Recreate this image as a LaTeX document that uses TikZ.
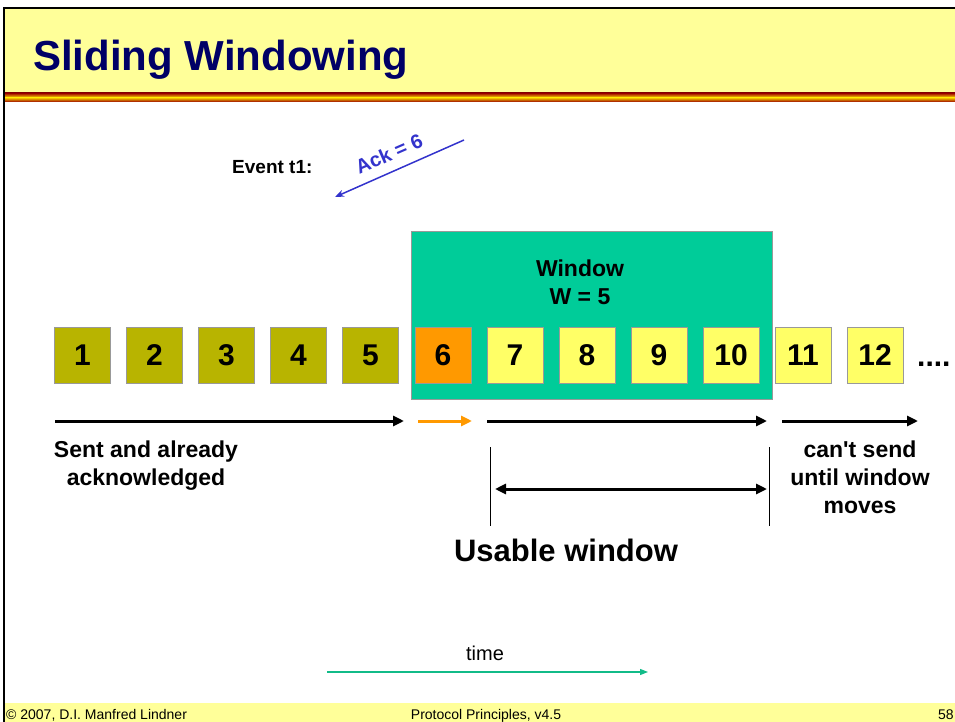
\documentclass[tikz,border=0pt]{standalone}
\usepackage{fontspec}
\setmainfont{Liberation Sans}
\usetikzlibrary{arrows.meta}
\definecolor{hdr}{HTML}{FFFF99}
\definecolor{navy}{HTML}{000066}
\definecolor{olivebox}{HTML}{B8B400}
\definecolor{orangebox}{HTML}{FF9900}
\definecolor{yellowbox}{HTML}{FFFF66}
\definecolor{teal}{HTML}{00CC99}
\definecolor{ackblue}{HTML}{3333CC}
\definecolor{timegreen}{HTML}{11BB88}
\tikzset{
  pkt/.style={draw=gray!80, line width=0.8pt, minimum width=56pt, minimum height=56pt, inner sep=0pt, font=\fontsize{30}{30}\selectfont\bfseries},
  lbl/.style={align=center, font=\fontsize{23}{28}\selectfont\bfseries, inner sep=0pt},
  bigarrow/.style={line width=3pt, -{Triangle[length=11pt,width=10pt]}},
  foot/.style={font=\fontsize{14}{14}\selectfont, inner sep=0pt},
}
\begin{document}
\begin{tikzpicture}[x=1pt,y=-1pt]
\useasboundingbox (0,0) rectangle (955,722);
% header
\fill[hdr] (4,8) rectangle (955,93);
\shade[top color=red!60!black, bottom color=yellow!70!orange] (4,93) rectangle (955,97.5);
\shade[top color=yellow!70!orange, bottom color=red!60!black] (4,97.5) rectangle (955,102);
\draw[line width=2pt] (4,722) -- (4,8) -- (955,8);
\node[anchor=base west, text=navy, font=\fontsize{42}{42}\selectfont\bfseries, inner sep=0pt] (title) at (33,71) {Sliding Windowing};
% footer
\fill[hdr] (5,703) rectangle (955,722);
\node[foot, anchor=base west] (copy) at (6,719) {© 2007, D.I. Manfred Lindner};
\node[foot, anchor=base] (proto) at (486,719) {Protocol Principles, v4.5};
\node[foot, anchor=base west] (page) at (938,719) {58};
% window
\node[draw=gray!80, line width=0.8pt, fill=teal, minimum width=361pt, minimum height=168pt, inner sep=0pt] (win) at (591.5,315) {};
\node[lbl] (wintxt) at (580,282) {Window\\W = 5};
% packets
\foreach \i in {1,...,5} {
  \node[pkt, fill=olivebox] (b\i) at ({82.5+72*(\i-1)},355) {\i};
}
\node[pkt, fill=orangebox] (b6) at (443,355) {6};
\foreach \i in {7,...,12} {
  \node[pkt, fill=yellowbox] (b\i) at ({443+72*(\i-6)},355) {\i};
}
\node[anchor=base west, font=\fontsize{30}{30}\selectfont\bfseries, inner sep=0pt] (dots) at (917,366) {....};
% event
\node[anchor=base west, font=\fontsize{19}{19}\selectfont\bfseries, inner sep=0pt] (event) at (232,174) {Event t1:};
\coordinate (ackS) at (464,140);
\coordinate (ackE) at (335,197);
\draw[ackblue, line width=1.5pt, -{Stealth[length=9pt,width=7pt]}] (ackS) -- (ackE);
\node[text=ackblue, font=\fontsize{20}{20}\selectfont\bfseries, rotate=23.5, inner sep=0pt] (ack) at (389,154) {Ack = 6};
% arrows
\coordinate (a1s) at (55,421); \coordinate (a1e) at (404,421);
\coordinate (a2s) at (418,421); \coordinate (a2e) at (472,421);
\coordinate (a3s) at (487,421); \coordinate (a3e) at (767,421);
\coordinate (a4s) at (782,421); \coordinate (a4e) at (918,421);
\draw[bigarrow] (a1s) -- (a1e);
\draw[bigarrow, orangebox] (a2s) -- (a2e);
\draw[bigarrow] (a3s) -- (a3e);
\draw[bigarrow] (a4s) -- (a4e);
\coordinate (v1t) at (490,447); \coordinate (v1b) at (490,526);
\coordinate (v2t) at (769,447); \coordinate (v2b) at (769,526);
\draw[line width=1pt] (v1t) -- (v1b);
\draw[line width=1pt] (v2t) -- (v2b);
\coordinate (dL) at (495,489); \coordinate (dR) at (767,489);
\draw[line width=3pt, {Triangle[length=11pt,width=10pt]}-{Triangle[length=11pt,width=10pt]}] (dL) -- (dR);
% labels
\node[lbl] (sent) at (146,466) {Sent and already\\acknowledged};
\node[lbl] (cant) at (860,477) {can\textquotesingle t send\\until window\\moves};
\node[anchor=base, font=\fontsize{31}{31}\selectfont\bfseries, inner sep=0pt] (usable) at (566,561) {Usable window};
% time
\node[anchor=base, font=\fontsize{20}{20}\selectfont, inner sep=0pt] (time) at (485,660) {time};
\coordinate (t1) at (327,672); \coordinate (t2) at (648,672);
\draw[timegreen, line width=1.2pt, -{Triangle[length=8pt,width=6pt]}] (t1) -- (t2);
\end{tikzpicture}
\end{document}
